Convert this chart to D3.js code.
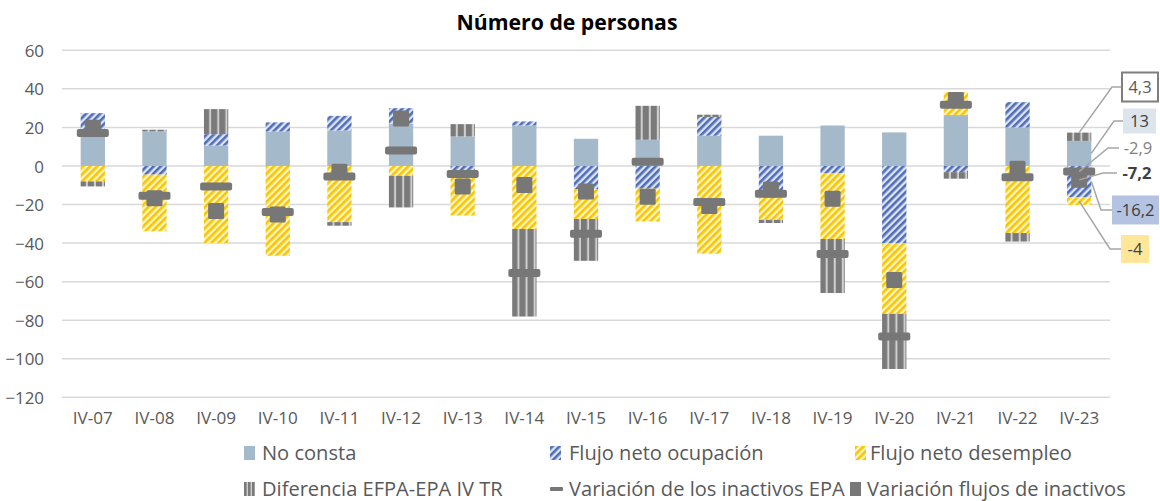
<!DOCTYPE html>
<html><head><meta charset="utf-8">
<script src="https://cdn.jsdelivr.net/npm/d3@7"></script>
<style>body{margin:0;background:#fff} svg{display:block}</style></head>
<body>
<svg id="c" width="1160" height="501"></svg>
<script>
const categories = ["IV-07","IV-08","IV-09","IV-10","IV-11","IV-12","IV-13","IV-14","IV-15","IV-16","IV-17","IV-18","IV-19","IV-20","IV-21","IV-22","IV-23"];
const noConsta = [17.9,17.9,10.6,17.9,18.4,22,15.3,21,14.1,13.6,15.7,15.7,21,17.4,26.4,20,13];
const flujoOcupacion = [9.5,-4.5,5.9,4.7,7.6,8,-2.3,2.1,-12,-11.8,9.7,-14,-3.7,-40,-3.2,13.1,-16.2];
const flujoDesempleo = [-8,-29.4,-40,-46.6,-29.1,-5.1,-23.4,-32.7,-15.5,-17,-45.5,-13.9,-34.2,-36.7,11.9,-34.8,-4];
const diferenciaEFPA = [-2.6,0.9,13,0,-1.9,-16.4,6.4,-45.4,-21.7,17.6,1.2,-1.7,-28,-28.6,-3.4,-4.4,4.3];
const variacionInactivosEPA = [17.1,-15.5,-10.6,-23.9,-5.4,8.0,-4.2,-55.5,-35.2,2.2,-18.7,-14.4,-45.7,-88.4,31.7,-5.8,-2.9];
const variacionFlujosInactivos = [19.8,-16.8,-23.4,-25.2,-3,24.6,-10.6,-9.9,-13.2,-16,-20.8,-12.2,-17,-59.2,34.2,-1.5,-7.2];
const yTicks = [60,40,20,0,-20,-40,-60,-80,-100,-120];
const seriesNames = ["No consta","Flujo neto ocupación","Flujo neto desempleo","Diferencia EFPA-EPA IV TR","Variación de los inactivos EPA","Variación flujos de inactivos"];

const FONT = "'Open Sans', Lato, sans-serif";
const svg = d3.select("#c");
const defs = svg.append("defs");

function fitSize(text, target, weight){
  const t = svg.append("text").attr("font-family",FONT).attr("font-size",20).attr("font-weight",weight||"normal").text(text);
  const w = t.node().getComputedTextLength(); t.remove();
  return w>0 ? 20*target/w : 16;
}
const titleSize = fitSize("Número de personas", 221, "bold");
const legendSize = fitSize("Flujo neto desempleo", 202);
const xTickSize = fitSize("IV-07", 40);
const yTickSize = fitSize("-120", 34.5);
const annSize = fitSize("-16,2", 38);

// patterns
function diagPattern(id, bg, fg){
  const p = defs.append("pattern").attr("id", id).attr("patternUnits","userSpaceOnUse")
    .attr("width",5).attr("height",5).attr("patternTransform","rotate(45)");
  p.append("rect").attr("width",5).attr("height",5).attr("fill",bg);
  p.append("rect").attr("width",2.6).attr("height",5).attr("fill",fg);
}
diagPattern("pOcu","#DCE3F3","#4F6DB8");
diagPattern("pDes","#FFF3C0","#F7C600");
const pv = defs.append("pattern").attr("id","pDif").attr("patternUnits","objectBoundingBox")
  .attr("patternContentUnits","userSpaceOnUse").attr("width",1/3).attr("height",1);
pv.append("rect").attr("width",40).attr("height",600).attr("fill","#7A7A7A");
pv.append("rect").attr("x",5.2).attr("width",2).attr("height",600).attr("fill","#CFCFCF");
const pvL = defs.append("pattern").attr("id","pDifL").attr("patternUnits","userSpaceOnUse")
  .attr("width",4).attr("height",20);
pvL.append("rect").attr("width",4).attr("height",20).attr("fill","#7A7A7A");
pvL.append("rect").attr("x",2.6).attr("width",1.4).attr("height",20).attr("fill","#CFCFCF");

const fills = {noConsta:"#A4B9CA", ocu:"url(#pOcu)", des:"url(#pDes)", dif:"url(#pDif)"};
const markerColor = "#777777";

const x = d3.scaleBand().domain(categories).range([62,1110]).paddingInner(0.606).paddingOuter(0.303);
const y = d3.scaleLinear().domain([-120,60]).range([397.3,50.3]);

// gridlines
svg.append("g").selectAll("line").data(yTicks).join("line")
  .attr("x1",62).attr("x2",1110).attr("y1",d=>y(d)).attr("y2",d=>y(d))
  .attr("stroke","#D9D9D9").attr("stroke-width",1.5);

// y axis labels
const yAxis = d3.axisLeft(y).tickValues(yTicks).tickSize(0).tickPadding(0);
const gy = svg.append("g").attr("transform","translate(44,0)").call(yAxis);
gy.select(".domain").remove();
gy.selectAll("text").attr("font-family",FONT).attr("font-size",yTickSize).attr("fill","#595959").attr("dy","0.36em");

// x axis labels
const xAxis = d3.axisBottom(x).tickSize(0).tickPadding(0);
const gx = svg.append("g").attr("transform","translate(0,412)").call(xAxis);
gx.select(".domain").remove();
gx.selectAll("text").attr("font-family",FONT).attr("font-size",xTickSize).attr("fill","#595959").attr("dy","0.7em");

// stacked bars
const keys = ["noConsta","ocu","des","dif"];
const table = categories.map((c,i)=>({cat:c, noConsta:noConsta[i], ocu:flujoOcupacion[i], des:flujoDesempleo[i], dif:diferenciaEFPA[i]}));
const stack = d3.stack().keys(keys).offset(d3.stackOffsetDiverging)(table);
const gBars = svg.append("g");
stack.forEach(s=>{
  gBars.append("g").selectAll("rect").data(s.filter(d=>d[1]!==d[0])).join("rect")
    .attr("x",d=>x(d.data.cat)).attr("width",x.bandwidth())
    .attr("y",d=>y(Math.max(d[0],d[1]))).attr("height",d=>Math.abs(y(d[0])-y(d[1])))
    .attr("fill",fills[s.key]);
});

// markers: squares then dashes
const gM = svg.append("g");
gM.selectAll("rect.sq").data(categories).join("rect").attr("class","sq")
  .attr("x",(d)=>x(d)+x.bandwidth()/2-8).attr("y",(d,i)=>y(variacionFlujosInactivos[i])-8)
  .attr("width",16).attr("height",16).attr("rx",1.5).attr("fill",markerColor);
gM.selectAll("rect.dash").data(categories).join("rect").attr("class","dash")
  .attr("x",(d)=>x(d)+x.bandwidth()/2-16).attr("y",(d,i)=>y(variacionInactivosEPA[i])-4)
  .attr("width",32).attr("height",8).attr("rx",2).attr("fill",markerColor);

// title
svg.append("text").attr("x",567).attr("y",22).attr("dy","0.36em").attr("text-anchor","middle")
  .attr("font-family",FONT).attr("font-weight","bold").attr("font-size",titleSize).attr("fill","#000")
  .text("Número de personas");

// annotations for last category
const li = categories.length-1, lc = categories[li];
const cx = x(lc)+x.bandwidth()/2, rx = x(lc)+x.bandwidth();
const ann = [
  {label:"4,3", ax:cx, ay:y(noConsta[li]+diferenciaEFPA[li]), ex:1112, ey:87, bx:1122, bw:36, bh:29, fill:"#fff", stroke:"#7F7F7F", color:"#595959", bold:false},
  {label:"13", ax:rx, ay:y(noConsta[li]/2), ex:1114, ey:121, bx:1123, bw:33, bh:25, fill:"#DCE4EC", stroke:null, color:"#404040", bold:false},
  {label:"-2,9", ax:cx, ay:y(variacionInactivosEPA[li]), ex:1108, ey:148, bx:1119, bw:38, bh:0, fill:null, stroke:null, color:"#7F7F7F", bold:false},
  {label:"-7,2", ax:cx, ay:y(variacionFlujosInactivos[li]), ex:1103, ey:173, bx:1117, bw:40, bh:0, fill:null, stroke:null, color:"#404040", bold:true},
  {label:"-16,2", ax:rx, ay:y(flujoOcupacion[li]/2), ex:1101, ey:210, bx:1112, bw:47, bh:29, fill:"#B5C3E2", stroke:null, color:"#404040", bold:false},
  {label:"-4", ax:cx, ay:y(flujoOcupacion[li]+flujoDesempleo[li]/2), ex:1110, ey:249, bx:1121, bw:28, bh:28, fill:"#FFE699", stroke:null, color:"#404040", bold:false}
];
const gA = svg.append("g");
ann.forEach(a=>{
  gA.append("polyline").attr("points",`${a.ax},${a.ay} ${a.ex},${a.ey} ${a.bx},${a.ey}`)
    .attr("fill","none").attr("stroke","#A6A6A6").attr("stroke-width",1.5);
  if(a.bh>0){
    gA.append("rect").attr("x",a.bx).attr("y",a.ey-a.bh/2).attr("width",a.bw).attr("height",a.bh)
      .attr("fill",a.fill).attr("stroke",a.stroke||"none").attr("stroke-width",2);
  }
  gA.append("text").attr("x",a.bx+a.bw/2).attr("y",a.ey).attr("dy","0.36em").attr("text-anchor","middle")
    .attr("font-family",FONT).attr("font-size",annSize).attr("font-weight",a.bold?"bold":"normal")
    .attr("fill",a.color).text(a.label);
});

// legend
const legend = [
  {name:seriesNames[0], sx:244, tx:262, row:0, type:"box", fill:fills.noConsta},
  {name:seriesNames[1], sx:550, tx:569, row:0, type:"box", fill:"url(#pOcu)"},
  {name:seriesNames[2], sx:855, tx:870, row:0, type:"box", fill:"url(#pDes)"},
  {name:seriesNames[3], sx:244, tx:262, row:1, type:"box", fill:"url(#pDifL)"},
  {name:seriesNames[4], sx:550, tx:569, row:1, type:"dash", fill:markerColor},
  {name:seriesNames[5], sx:850, tx:867, row:1, type:"box", fill:markerColor}
];
const rowY = [453, 489];
const gL = svg.append("g");
legend.forEach(l=>{
  const cy = rowY[l.row];
  if(l.type==="box") gL.append("rect").attr("x",l.sx).attr("y",cy-7).attr("width",11).attr("height",14).attr("fill",l.fill);
  else gL.append("rect").attr("x",l.sx).attr("y",cy-2).attr("width",13).attr("height",4).attr("rx",1).attr("fill",l.fill);
  gL.append("text").attr("x",l.tx).attr("y",cy).attr("dy","0.36em").attr("font-family",FONT)
    .attr("font-size",legendSize).attr("fill","#595959").text(l.name);
});
</script>
</body></html>
